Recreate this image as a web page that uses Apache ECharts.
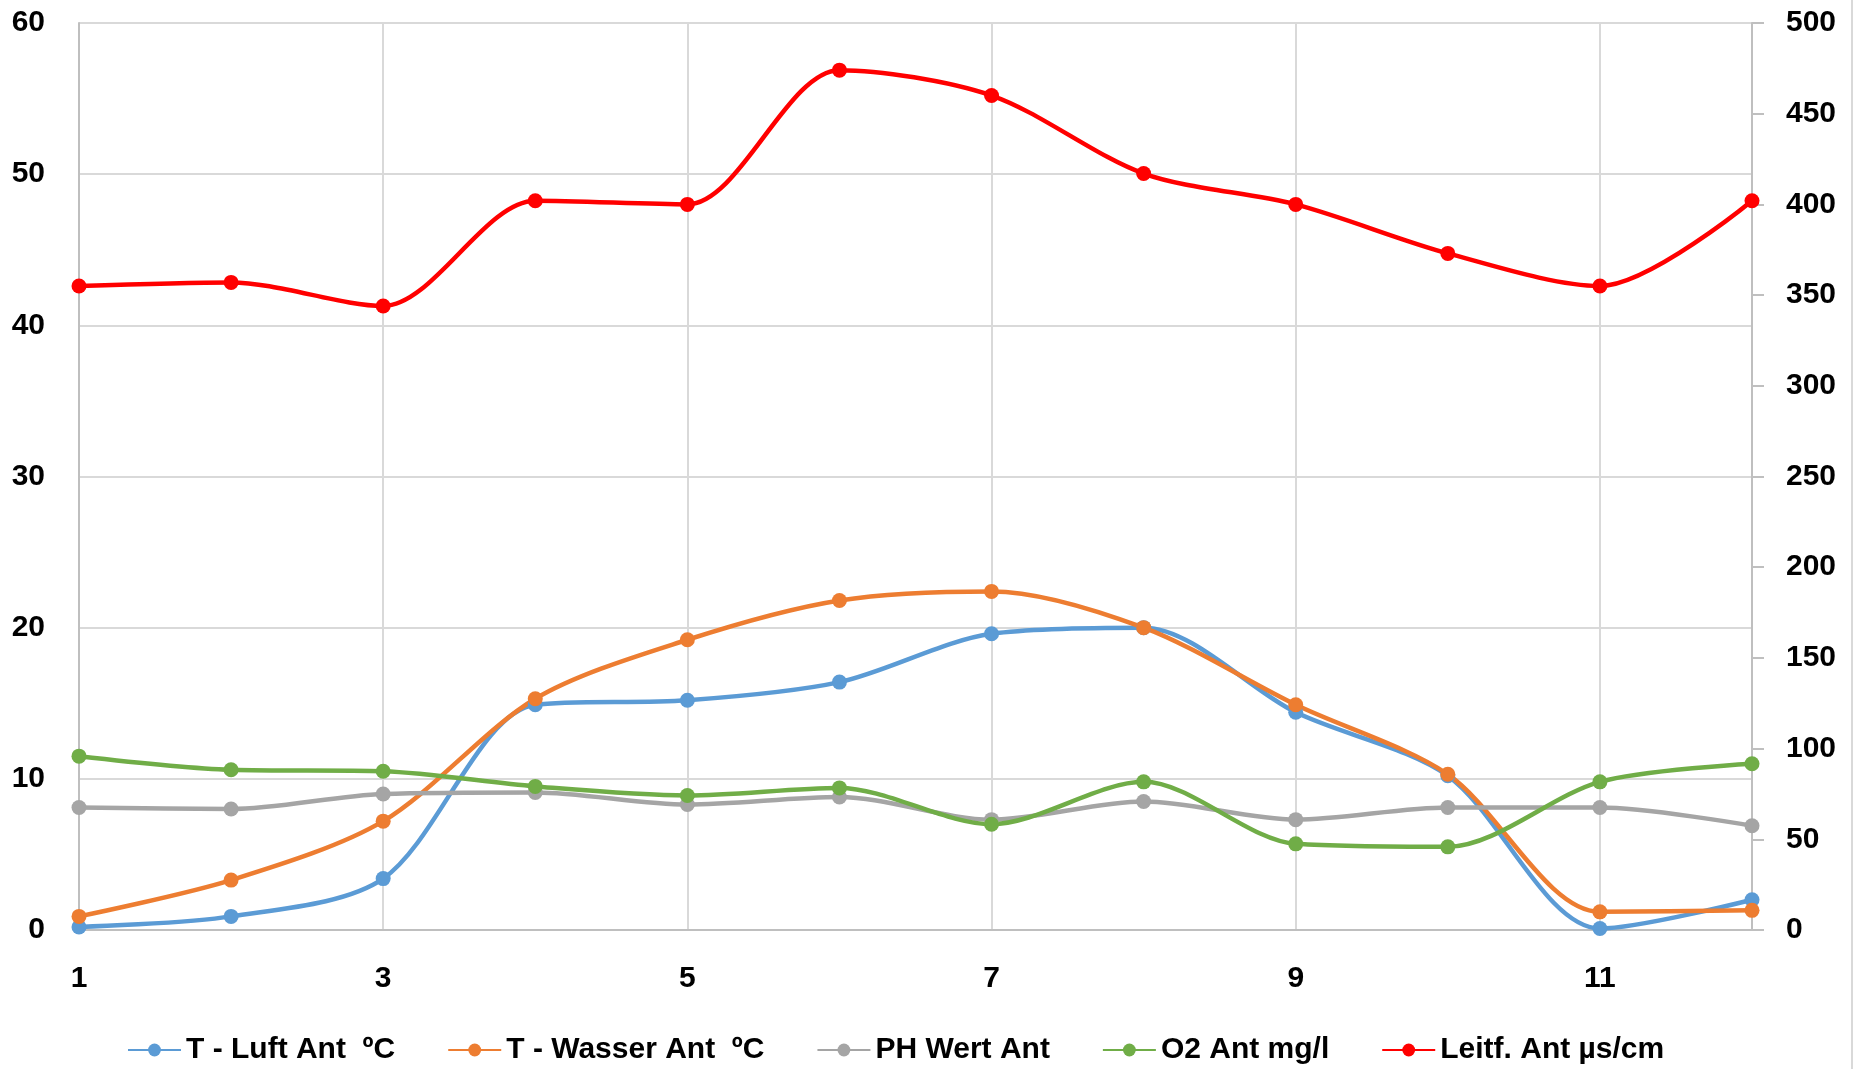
<!DOCTYPE html>
<html>
<head>
<meta charset="utf-8">
<script src="https://cdn.jsdelivr.net/npm/echarts@6/dist/echarts.min.js"></script>
<style>
  html, body { margin: 0; padding: 0; background: #fff; }
  #chart { width: 1856px; height: 1069px; }
</style>
</head>
<body>
<div id="chart"></div>
<script>
const categories = ['1', '2', '3', '4', '5', '6', '7', '8', '9', '10', '11', '12'];
const tLuft = [0.2, 0.9, 3.4, 14.9, 15.2, 16.4, 19.6, 20.0, 14.4, 10.2, 0.1, 2.0];
const tWasser = [0.9, 3.3, 7.2, 15.3, 19.2, 21.8, 22.4, 20.0, 14.9, 10.3, 1.2, 1.3];
const phWert = [8.1, 8.0, 9.0, 9.1, 8.3, 8.8, 7.3, 8.5, 7.3, 8.1, 8.1, 6.9];
const o2 = [11.5, 10.6, 10.5, 9.5, 8.9, 9.4, 7.0, 9.8, 5.7, 5.5, 9.8, 11.0];
const leitf = [355, 357, 344, 402, 400, 474, 460, 417, 400, 373, 355, 402];

const font = "'Liberation Sans', Arial, sans-serif";
const labelStyle = { color: '#000', fontFamily: font, fontWeight: 'bold', fontSize: 30 };

const chart = echarts.init(document.getElementById('chart'));

function line(name, data, color, yAxisIndex) {
  return {
    name: name,
    type: 'line',
    yAxisIndex: yAxisIndex,
    data: data,
    smooth: 0.3,
    symbol: 'circle',
    symbolSize: 15,
    lineStyle: { color: color, width: 4.5 },
    itemStyle: { color: color },
    emphasis: { disabled: true }
  };
}

chart.setOption({
  backgroundColor: '#fff',
  animation: false,
  graphic: [{
    type: 'line',
    shape: { x1: 1852, y1: 0, x2: 1852, y2: 1069 },
    style: { stroke: '#d9d9d9', lineWidth: 2 }
  }],
  grid: { left: 79, right: 104, top: 23, bottom: 139, containLabel: false },
  legend: {
    left: 122,
    top: 1030,
    itemWidth: 53,
    itemHeight: 16,
    itemGap: 52,
    textStyle: labelStyle
  },
  xAxis: {
    type: 'category',
    data: categories,
    boundaryGap: false,
    axisLine: { lineStyle: { color: '#bfbfbf', width: 2 } },
    axisTick: { show: false },
    axisLabel: Object.assign({ interval: 1, margin: 34 }, labelStyle),
    splitLine: { show: true, interval: 1, lineStyle: { color: '#d9d9d9', width: 2 } }
  },
  yAxis: [
    {
      type: 'value',
      min: 0,
      max: 60,
      interval: 10,
      axisLine: { show: true, lineStyle: { color: '#bfbfbf', width: 2 } },
      axisTick: { show: false },
      axisLabel: Object.assign({ margin: 34 }, labelStyle),
      splitLine: { lineStyle: { color: '#d9d9d9', width: 2 } }
    },
    {
      type: 'value',
      position: 'right',
      min: 0,
      max: 500,
      interval: 50,
      axisLine: { show: true, lineStyle: { color: '#bfbfbf', width: 2 } },
      axisTick: { show: true, length: 12, lineStyle: { color: '#bfbfbf', width: 2 } },
      axisLabel: Object.assign({ margin: 34 }, labelStyle),
      splitLine: { show: false }
    }
  ],
  series: [
    line('T - Luft Ant  ºC', tLuft, '#5B9BD5', 0),
    line('T - Wasser Ant  ºC', tWasser, '#ED7D31', 0),
    line('PH Wert Ant', phWert, '#A5A5A5', 0),
    line('O2 Ant mg/l', o2, '#70AD47', 0),
    line('Leitf. Ant µs/cm', leitf, '#FF0000', 1)
  ]
});
window.addEventListener('resize', () => chart.resize());
</script>
</body>
</html>
